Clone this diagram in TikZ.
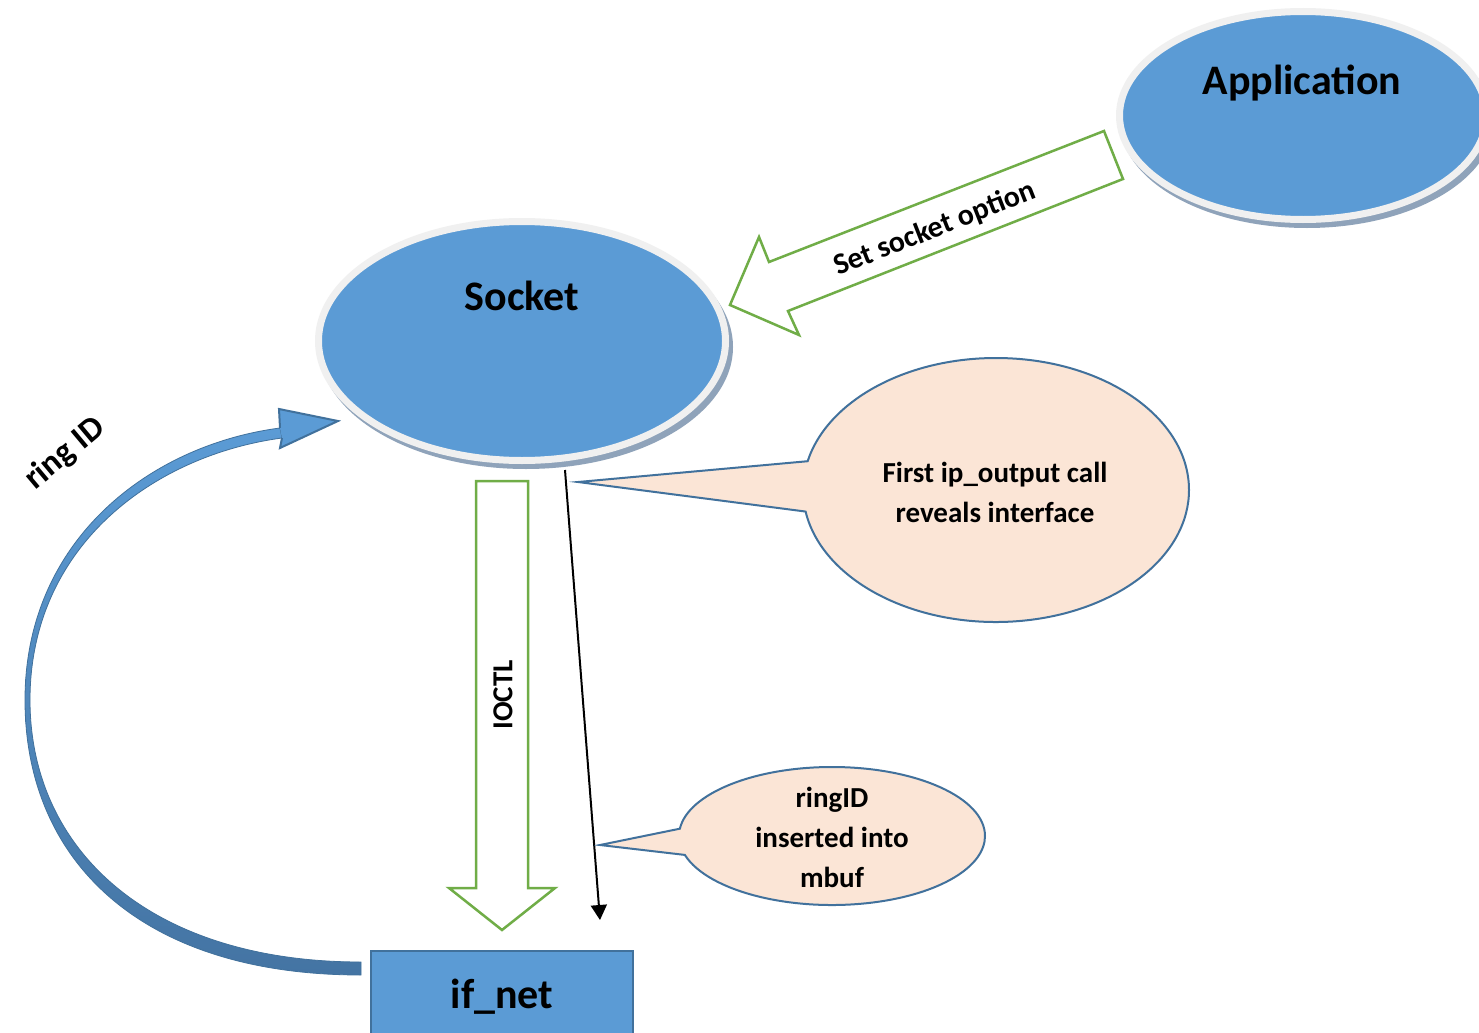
\documentclass[tikz,border=0pt]{standalone}
\usepackage{fontspec}
\setmainfont{Carlito}
\usetikzlibrary{shapes.geometric,shapes.callouts,arrows.meta}
\definecolor{fillblue}{RGB}{91,155,213}
\definecolor{edgeblue}{RGB}{65,113,156}
\definecolor{arrgreen}{RGB}{112,173,71}
\definecolor{peach}{RGB}{251,229,214}
\definecolor{ringgray}{RGB}{240,240,240}
\definecolor{shadowcol}{RGB}{143,163,186}
\definecolor{banddark}{RGB}{68,116,163}
\begin{document}
\begin{tikzpicture}[x=0.5pt,y=-0.5pt,
  blob/.style={ellipse, fill=fillblue, draw=ringgray, line width=3.5pt, inner sep=0pt},
  blockarrow/.style={draw=arrgreen, line width=1.25pt, fill=white, line join=miter},
  bubble/.style={ellipse callout, fill=peach, draw=edgeblue, line width=1pt, inner sep=0pt, callout pointer arc=22},
  bigtext/.style={font=\bfseries\fontsize{21}{25}\selectfont, text=black, inner sep=0pt},
  smalltext/.style={font=\bfseries\fontsize{14.5}{20}\selectfont, text=black, align=center, inner sep=0pt}]
\useasboundingbox (0,0) rectangle (1479,1033);
\clip (0,0) rectangle (1479,1033);
\fill[white] (0,0) rectangle (1479,1033);

% Application
\fill[shadowcol] (1307,121.5) ellipse [x radius=93.5pt, y radius=53.25pt];
\node[blob, minimum width=183.5pt, minimum height=104pt] (app) at (1303,115.5) {};
\node[bigtext, anchor=base] (apptext) at (1302,94) {Application};

% Socket
\fill[shadowcol] (526,347) ellipse [x radius=103.5pt, y radius=61pt];
\node[blob, minimum width=203.5pt, minimum height=119.5pt] (socket) at (522,341) {};
\node[bigtext, anchor=base] (sockettext) at (522,310) {Socket};

% if_net
\node[draw=edgeblue, fill=fillblue, line width=1pt, minimum width=131pt, minimum height=45pt, inner sep=0pt] (ifnet) at (502,996) {};
\node[bigtext, anchor=base] (ifnettext) at (502,1008) {if\_net};

% Set socket option block arrow
\coordinate (sso1) at (1104,131);
\coordinate (sso2) at (1123,179);
\coordinate (ssotip) at (730,305);
\draw[blockarrow] (sso1) -- (sso2) -- (788,311) -- (799,335) -- (ssotip) -- (759,237) -- (769,262) -- cycle;
\node[smalltext, font=\bfseries\fontsize{15}{20}\selectfont, rotate=21.4] (ssotext) at (935,229) {Set socket option};

% IOCTL block arrow
\coordinate (ioctltop) at (502,481);
\coordinate (ioctltip) at (502,930);
\draw[blockarrow] (476,481) -- (528,481) -- (528,888) -- (555,888) -- (ioctltip) -- (449,888) -- (476,888) -- cycle;
\node[smalltext, rotate=90] (ioctltext) at (503,695) {IOCTL};

% black arrow
\coordinate (bstart) at (565,470);
\coordinate (bend) at (600,920);
\draw[line width=1pt, -{Triangle[width=8pt,length=7.5pt]}] (bstart) -- (bend);

% ring ID curved arrow
\coordinate (ringstart) at (361,968);
\coordinate (ringtip) at (338,421);
\shade[top color=fillblue, bottom color=banddark, draw=edgeblue, line width=0.4pt]
  (361,975) .. controls (140,975) and (25,860) .. (25,700)
  .. controls (25,540) and (150,445) .. (280,428)
  -- (282,438) .. controls (155,455) and (30,545) .. (30,700)
  .. controls (30,850) and (150,962) .. (361,962) -- cycle;
\filldraw[fill=fillblue, draw=edgeblue, line width=1pt, line join=miter]
  (280,428) -- (279,409) -- (ringtip) -- (280,448) -- (282,438);
\node[smalltext, font=\bfseries\fontsize{17}{20}\selectfont, rotate=40] (ringtext) at (65,454) {ring ID};

% callouts
\node[bubble, minimum width=193pt, minimum height=132pt, callout absolute pointer={(578,482)}] (call1) at (996,490) {};
\node[smalltext] (call1text) at (995,492) {First ip\_output call\\reveals interface};
\node[bubble, minimum width=153pt, minimum height=69pt, callout absolute pointer={(600,845)}] (call2) at (832,836) {};
\node[smalltext] (call2text) at (832,837) {ringID\\inserted into\\mbuf};
\end{tikzpicture}
\end{document}
